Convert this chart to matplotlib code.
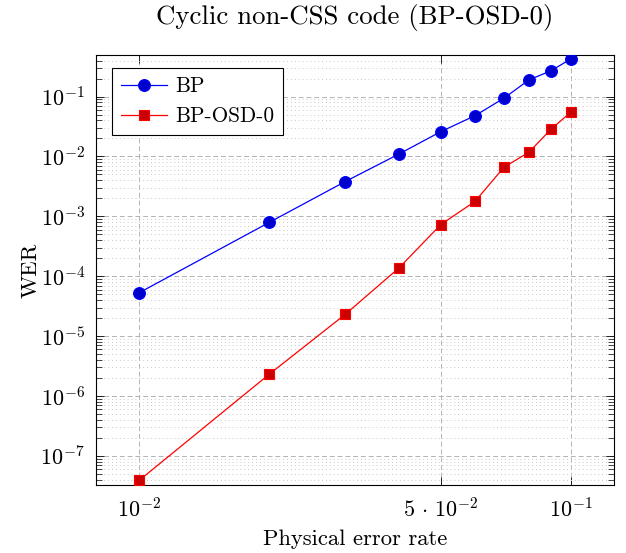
import numpy as np
import matplotlib
matplotlib.use("Agg")
import matplotlib.pyplot as plt
from matplotlib.ticker import FixedLocator, LogLocator, NullFormatter

# LaTeX-ish look
plt.rcParams["font.family"] = "cmr10"
plt.rcParams["mathtext.fontset"] = "cm"
plt.rcParams["axes.unicode_minus"] = False
plt.rcParams["axes.formatter.use_mathtext"] = True

# data
p = [0.01, 0.02, 0.03, 0.04, 0.05, 0.06, 0.07, 0.08, 0.09, 0.10]
wer_bp = [5.3e-5, 7.9e-4, 3.8e-3, 1.1e-2, 2.6e-2, 4.8e-2, 9.4e-2, 0.19, 0.27, 0.425]
wer_osd = [3.9e-8, 2.3e-6, 2.3e-5, 1.38e-4, 7.3e-4, 1.78e-3, 6.6e-3, 1.18e-2, 2.85e-2, 5.5e-2]

xticks = [0.01, 0.05, 0.1]
xticklabels = [r"$10^{-2}$", r"$5\,\cdot\,10^{-2}$", r"$10^{-1}$"]

fig = plt.figure(figsize=(6.26, 5.53), dpi=100)
ax = fig.add_axes([96 / 626, 68 / 553, 518 / 626, 430 / 553])

ax.plot(p, wer_bp, color="blue", lw=0.9, marker="o", ms=8.5,
        mfc="#0000cc", mec="blue", mew=0.8, label="BP", zorder=3)
ax.plot(p, wer_osd, color="red", lw=0.9, marker="s", ms=7.5,
        mfc="#cc0000", mec="red", mew=0.8, label="BP-OSD-0", zorder=3)

ax.set_xscale("log")
ax.set_yscale("log")
ax.set_xlim(10**-2.1, 10**-0.9)
ax.set_ylim(10**-7.486, 10**-0.306)

ax.xaxis.set_major_locator(FixedLocator(xticks))
ax.set_xticklabels(xticklabels)
ax.xaxis.set_minor_locator(FixedLocator([]))
ax.xaxis.set_minor_formatter(NullFormatter())
ax.yaxis.set_major_locator(LogLocator(base=10, numticks=20))
ax.yaxis.set_minor_locator(LogLocator(base=10, subs=np.arange(2, 10), numticks=20))
ax.yaxis.set_minor_formatter(NullFormatter())

ax.grid(True, which="major", ls=(0, (5, 3)), color="#b3b3b3", lw=0.7)
ax.grid(True, which="minor", axis="y", ls=(0, (1, 3)), color="#c8c8c8", lw=0.7)

ax.tick_params(which="both", direction="in", top=True, right=True, labelsize=15.9, pad=8)
ax.tick_params(which="major", length=6, width=0.6)
ax.tick_params(which="minor", length=4, width=0.5)
for s in ax.spines.values():
    s.set_linewidth(0.8)

ax.set_xlabel("Physical error rate", fontsize=16.3, labelpad=7)
ax.set_ylabel("WER", fontsize=16.3, labelpad=0)
ax.set_title("Cyclic non-CSS code (BP-OSD-0)", fontsize=19.3, pad=22)

leg = ax.legend(loc="upper left", bbox_to_anchor=(16 / 518, 1 - 13 / 430), fontsize=15.3,
                fancybox=False, edgecolor="black", framealpha=1, borderaxespad=0,
                handlelength=2.2, handletextpad=0.4, borderpad=0.4, labelspacing=0.5)
leg.get_frame().set_linewidth(0.8)

fig.savefig("out.png", dpi=100)
